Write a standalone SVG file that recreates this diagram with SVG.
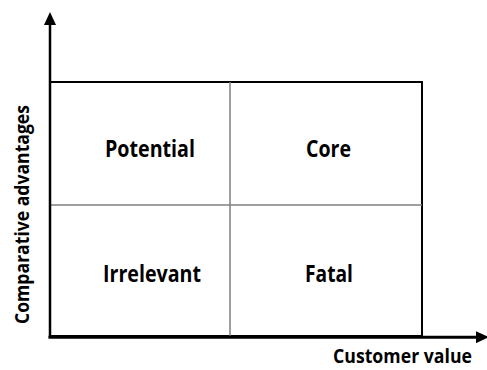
<svg xmlns="http://www.w3.org/2000/svg" width="487" height="370" viewBox="0 0 487 370">
  <style>
    .frame { fill: none; stroke: #000; stroke-width: 2; }
    .divider { stroke: #7f7f7f; stroke-width: 1.5; }
    .axis { stroke: #000; fill: none; }
    .label { font-family: "Open Sans", "Liberation Sans", sans-serif; font-weight: bold; fill: #000; }
    .quad { font-size: 22.5px; text-anchor: middle; }
    .axis-title { font-size: 20px; }
    .x-title { font-size: 19px; }
  </style>
  <defs>
    <marker id="arrow" viewBox="0 0 13 12" refX="0" refY="6" markerWidth="13" markerHeight="12" markerUnits="userSpaceOnUse" orient="auto">
      <path d="M0,0 L13,6 L0,12 Z" fill="#000"/>
    </marker>
  </defs>
  <rect width="487" height="370" fill="#fff"/>

  <!-- matrix frame and cell dividers -->
  <g id="matrix">
    <rect class="frame" x="50" y="82" width="372" height="254"/>
    <line class="divider" x1="230" y1="82" x2="230" y2="336"/>
    <line class="divider" x1="50" y1="205" x2="422" y2="205"/>
  </g>

  <!-- quadrants -->
  <g id="potential">
    <text class="label quad" x="150" y="157" textLength="90" lengthAdjust="spacingAndGlyphs">Potential</text>
  </g>
  <g id="core">
    <text class="label quad" x="328.5" y="157" textLength="45" lengthAdjust="spacingAndGlyphs">Core</text>
  </g>
  <g id="irrelevant">
    <text class="label quad" x="152" y="282" textLength="98" lengthAdjust="spacingAndGlyphs">Irrelevant</text>
  </g>
  <g id="fatal">
    <text class="label quad" x="329" y="282" textLength="48" lengthAdjust="spacingAndGlyphs">Fatal</text>
  </g>

  <!-- axes -->
  <g id="connectors">
    <line class="axis" x1="50" y1="338" x2="50" y2="25" stroke-width="2.5" marker-end="url(#arrow)"/>
    <line class="axis" x1="48.5" y1="337.2" x2="476" y2="337.2" stroke-width="3" marker-end="url(#arrow)"/>
  </g>

  <!-- axis titles -->
  <g id="y-title">
    <text class="label axis-title" transform="translate(29,324) rotate(-90)" x="0" y="0" textLength="219" lengthAdjust="spacingAndGlyphs">Comparative advantages</text>
  </g>
  <g id="x-title">
    <text class="label x-title" x="333" y="363" textLength="139" lengthAdjust="spacingAndGlyphs">Customer value</text>
  </g>
</svg>
